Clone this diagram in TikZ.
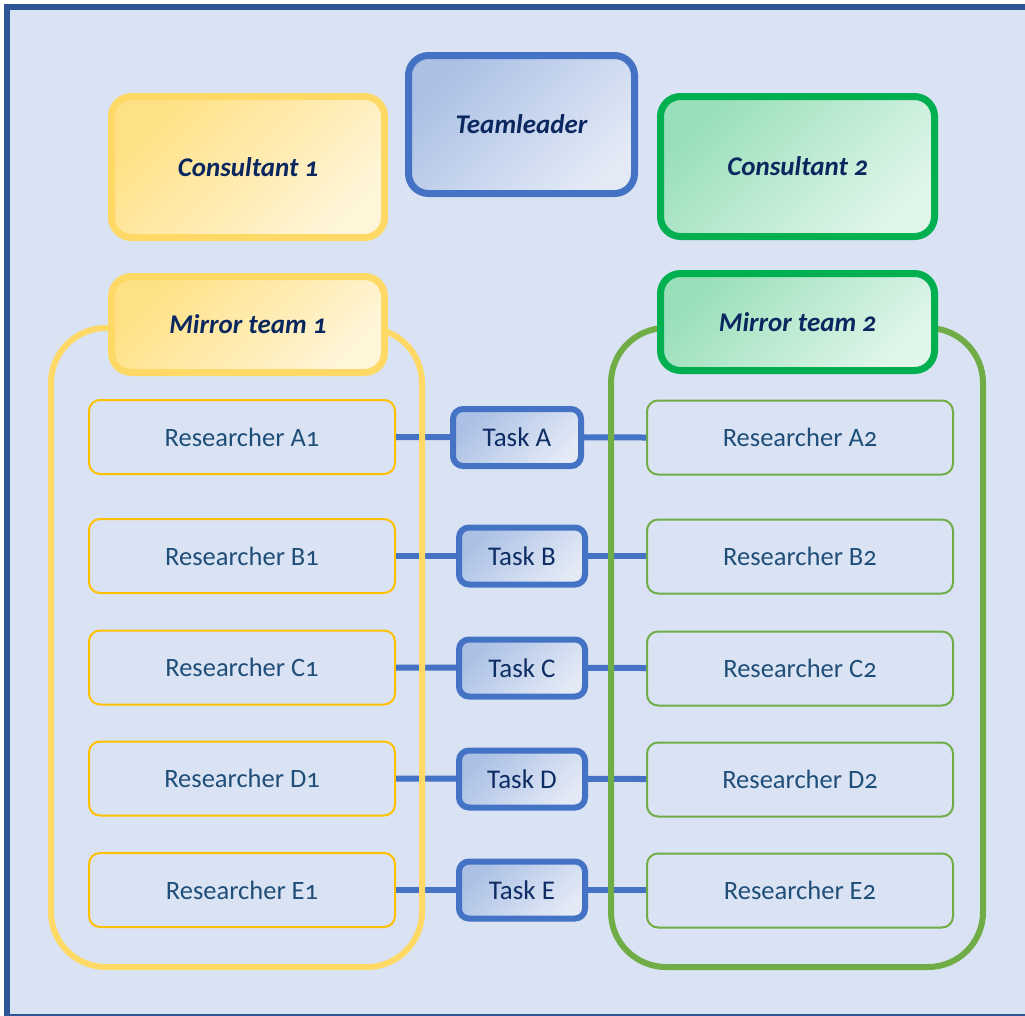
\documentclass[tikz,border=0pt]{standalone}
\usepackage{fontspec}
\setmainfont{Carlito}[Numbers=OldStyle]
\begin{document}
\definecolor{frameblue}{HTML}{2F5597}
\definecolor{bgblue}{HTML}{DAE3F3}
\definecolor{yel}{HTML}{FFD966}
\definecolor{yelthin}{HTML}{FFC000}
\definecolor{grn}{HTML}{00B050}
\definecolor{grnthin}{HTML}{70AD47}
\definecolor{blu}{HTML}{4472C4}
\definecolor{navy}{HTML}{0B2760}
\definecolor{steel}{HTML}{1F4E79}
\begin{tikzpicture}[x=1pt,y=-1pt,
  hdr/.style={rounded corners=20pt, line width=7pt, inner sep=0pt,
    font=\fontsize{27}{30}\selectfont\bfseries\itshape, text=navy},
  yelbox/.style={hdr, draw=yel, top color=yel!80!white, bottom color=yel!25!white, shading angle=45},
  grnbox/.style={hdr, draw=grn, top color=grn!40!white, bottom color=grn!12!white, shading angle=45},
  blubox/.style={hdr, draw=blu, top color=blu!45!white, bottom color=blu!15!white, shading angle=45},
  research/.style={rounded corners=11pt, line width=2pt, inner sep=0pt,
    minimum width=306pt, minimum height=74pt,
    font=\fontsize{26.5}{30}\selectfont, text=steel},
  resL/.style={research, draw=yelthin},
  resR/.style={research, draw=grnthin},
  taskbox/.style={rounded corners=10pt, line width=6pt, inner sep=0pt,
    draw=blu, top color=blu!45!white, bottom color=blu!15!white, shading angle=45,
    minimum width=126pt, minimum height=57pt,
    font=\fontsize{27}{30}\selectfont, text=navy!85!steel},
  link/.style={draw=blu, line width=6pt},
  container/.style={rounded corners=55pt, line width=6pt}
]
\useasboundingbox (0,0) rectangle (1025,1015);
\clip (0,0) rectangle (1025,1015);
\fill[white] (0,0) rectangle (1025,1015);
\draw[draw=frameblue, fill=bgblue, line width=6pt] (7,7) rectangle (1040,1017);

% researchers
\node[resL] (rA1) at (242,437) {Researcher A1};
\node[resL] (rB1) at (242,556) {Researcher B1};
\node[resL] (rC1) at (242,667.5) {Researcher C1};
\node[resL] (rD1) at (242,778.5) {Researcher D1};
\node[resL] (rE1) at (242,890) {Researcher E1};
\node[resR] (rA2) at (800,437.5) {Researcher A2};
\node[resR] (rB2) at (800,556.5) {Researcher B2};
\node[resR] (rC2) at (800,668.5) {Researcher C2};
\node[resR] (rD2) at (800,779.5) {Researcher D2};
\node[resR] (rE2) at (800,890.5) {Researcher E2};

% links (behind tasks and containers)
\coordinate (tAc) at (517,437.5);
\coordinate (tBc) at (522,556);
\coordinate (tCc) at (522,668);
\coordinate (tDc) at (522,779);
\coordinate (tEc) at (522,890);
\foreach \r in {A,B,C,D,E}{
  \draw[link] (r\r1.east) -- (t\r c -| r\r2.west);
}

% containers
\draw[container, draw=yel] (51,328) rectangle (422,967);
\draw[container, draw=grnthin] (611,328) rectangle (983,967);

% tasks
\node[taskbox, minimum width=128pt] (tA) at (tAc) {Task A};
\node[taskbox] (tB) at (tBc) {Task B};
\node[taskbox] (tC) at (tCc) {Task C};
\node[taskbox] (tD) at (tDc) {Task D};
\node[taskbox] (tE) at (tEc) {Task E};

% headers
\node[yelbox, minimum width=273pt, minimum height=141pt] (c1) at (248,167) {Consultant 1};
\node[blubox, minimum width=226pt, minimum height=138pt] (tl) at (521.5,124.5) {Teamleader};
\node[grnbox, minimum width=274pt, minimum height=140pt] (c2) at (797.5,166.5) {Consultant 2};
\node[yelbox, minimum width=273pt, minimum height=96pt] (m1) at (248,324.5) {Mirror team 1};
\node[grnbox, minimum width=274pt, minimum height=97pt] (m2) at (797.5,322) {Mirror team 2};
\end{tikzpicture}
\end{document}
